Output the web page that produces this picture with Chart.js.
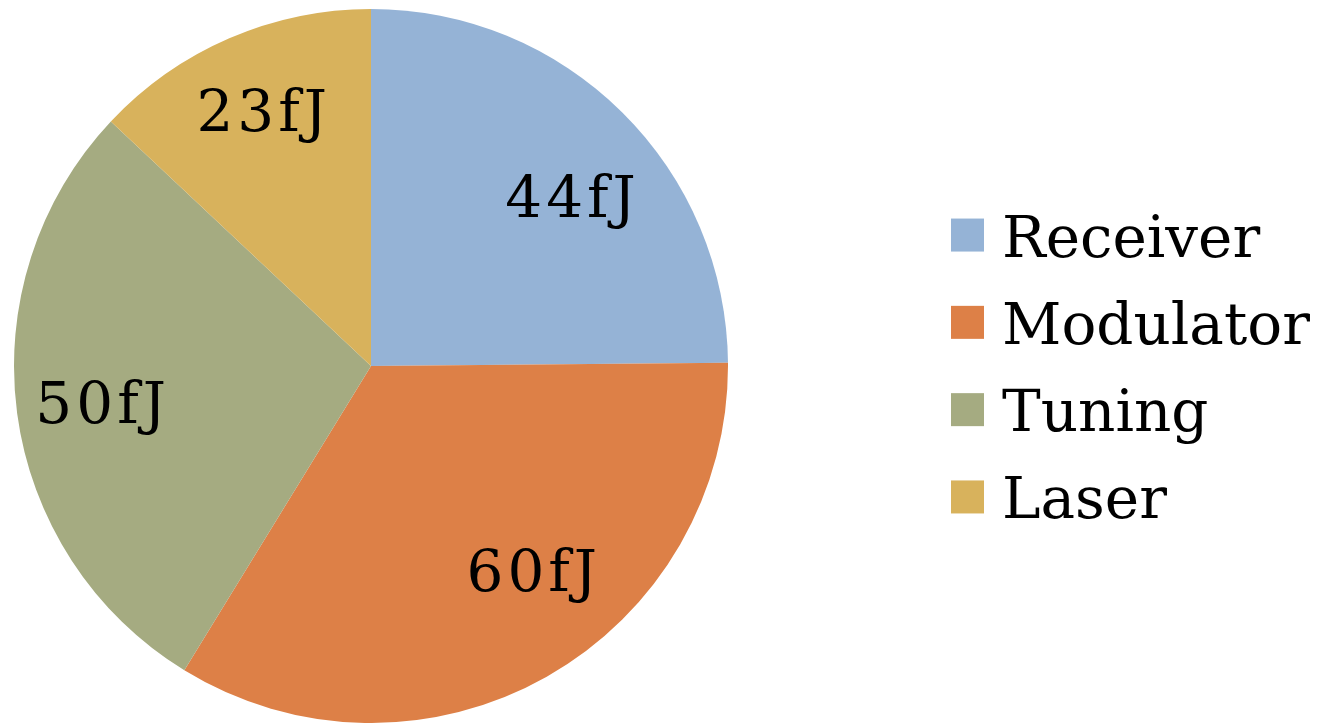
<!DOCTYPE html>
<html>
<head>
<meta charset="utf-8">
<script src="https://cdn.jsdelivr.net/npm/chart.js@4"></script>
<style>
  html,body{margin:0;padding:0;background:#fff;}
  #wrap{width:1328px;height:723px;position:relative;}
</style>
</head>
<body>
<div id="wrap"><canvas id="chartPie"></canvas></div>
<script>
// datos
const categorias = ['Receiver','Modulator','Tuning','Laser'];
const valores = [44,60,50,23];
const etiquetas = ['44fJ','60fJ','50fJ','23fJ'];
const colores = ['#95b3d6','#dd8047','#a5ab81','#d8b25c'];

const FONT = '"DejaVu Serif", "Liberation Serif", serif';

// etiquetas dentro de cada porcion (con pequeño ajuste tipo "best fit")
const labelsPlugin = {
  id:'sliceLabels',
  afterDatasetsDraw(chart, args, opts){
    const ctx = chart.ctx;
    const meta = chart.getDatasetMeta(0);
    const nudge = opts.nudge || [];
    ctx.save();
    ctx.font = '58px ' + FONT;
    if('letterSpacing' in ctx) ctx.letterSpacing = '4px';
    ctx.fillStyle = '#000';
    ctx.textAlign = 'center';
    ctx.textBaseline = 'alphabetic';
    meta.data.forEach((arc,i)=>{
      const p = arc.getProps(['x','y','startAngle','endAngle','outerRadius'],true);
      const mid = (p.startAngle+p.endAngle)/2;
      const r = p.outerRadius*0.75;
      const n = nudge[i] || [0,0];
      const x = p.x + Math.cos(mid)*r + n[0];
      const y = p.y + Math.sin(mid)*r + n[1];
      ctx.fillText(etiquetas[i], x+2, y+21);
    });
    ctx.restore();
  }
};

// leyenda a la derecha
const legendPlugin = {
  id:'sideLegend',
  afterDraw(chart){
    const ctx = chart.ctx;
    const box = 33, gap = 87.3;
    const x0 = 951, cy0 = 366 - gap*1.5;
    ctx.save();
    ctx.font = '58px ' + FONT;
    ctx.textAlign = 'left';
    ctx.textBaseline = 'alphabetic';
    categorias.forEach((c,i)=>{
      const cy = cy0 + gap*i;
      ctx.fillStyle = colores[i];
      ctx.fillRect(x0, cy-box/2, box, box);
      ctx.fillStyle = '#000';
      ctx.fillText(c, x0+51, cy+21.5);
    });
    ctx.restore();
  }
};

new Chart(document.getElementById('chartPie'),{
  type:'pie',
  data:{
    labels:categorias,
    datasets:[{data:valores,backgroundColor:colores,borderWidth:0}]
  },
  options:{
    responsive:true,
    maintainAspectRatio:false,
    animation:false,
    layout:{padding:{left:14,top:9,bottom:0,right:600}},
    plugins:{
      legend:{display:false},
      tooltip:{enabled:false},
      sliceLabels:{nudge:[[11,20],[29,-29],[-5,0],[-3,-10]]}
    }
  },
  plugins:[labelsPlugin,legendPlugin]
});
</script>
</body>
</html>
